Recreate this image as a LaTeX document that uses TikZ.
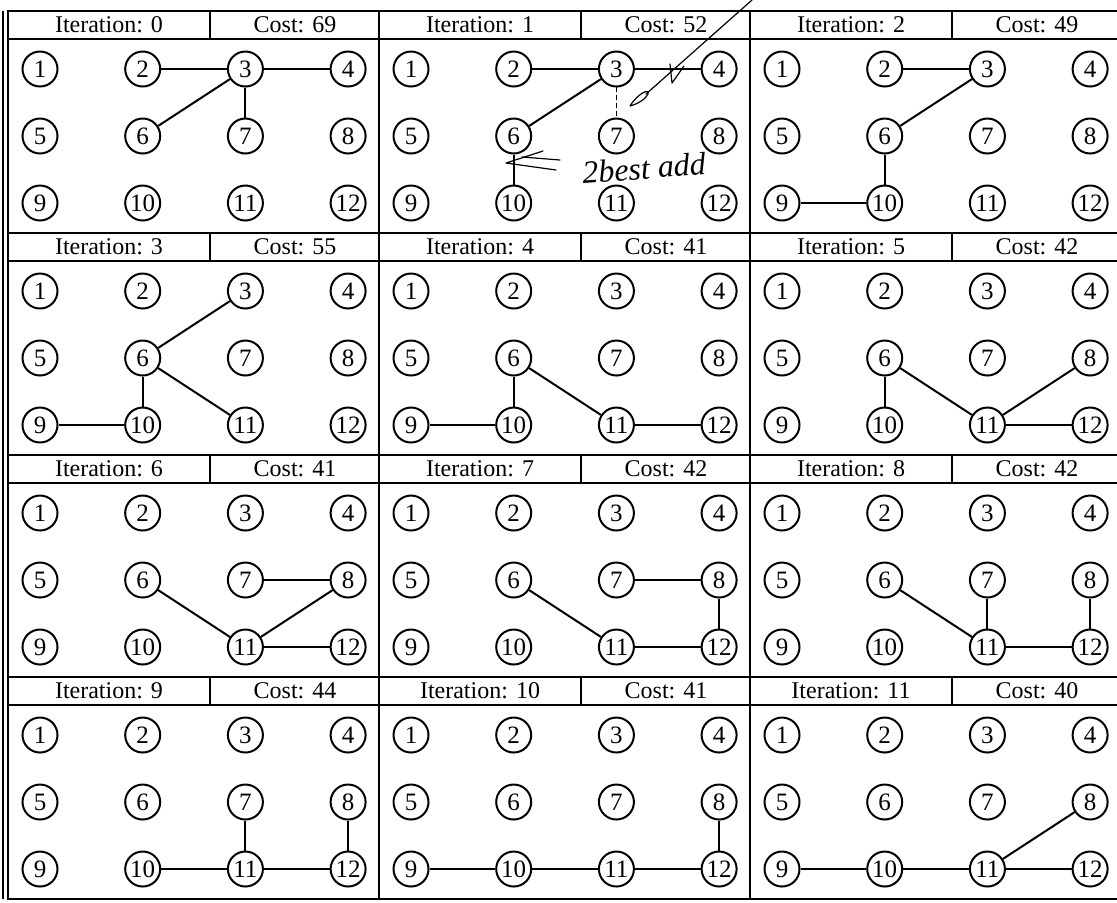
\documentclass[tikz,border=0pt]{standalone}
\usepackage{fontspec}
\setmainfont{Liberation Serif}

\tikzset{
  vertex/.style={circle, draw, line width=1pt, minimum size=17.5pt, inner sep=0pt,
    font=\fontsize{12.5}{13}\selectfont},
  link/.style={line width=1pt},
  frame/.style={line width=1pt},
  headtext/.style={inner sep=0pt, font=\fontsize{12}{12}\selectfont},
  pen/.style={line width=0.6pt, line cap=round, line join=round}
}

% one panel: name, left, top, iteration, cost
\newcommand{\iterpanel}[5]{%
  \draw[frame] (#2,#3) rectangle ++(371,222);
  \draw[frame] (#2,#3+28) -- ++(371,0);
  \draw[frame] (#2+202,#3) -- ++(0,28);
  \node[headtext] (#1head) at (#2+101,#3+14) {Iteration: #4};
  \node[headtext] (#1cost) at (#2+287,#3+14) {Cost: #5};
  \foreach \r in {0,1,2}
    \foreach \c in {1,...,4} {
      \pgfmathtruncatemacro\k{4*\r+\c}
      \node[vertex] (#1v\k) at (#2+32+102.7*\c-102.7,#3+58+67*\r) {\k};
    }
}
\newcommand{\links}[2]{\foreach \a/\b in {#2} \draw[link] (#1v\a) -- (#1v\b);}

\begin{document}
\begin{tikzpicture}[x=0.5pt, y=-0.5pt]
  \useasboundingbox (0,0) rectangle (1117,902);
  \clip (0,0) rectangle (1117,902);

  \iterpanel{p0}{8}{11}{0}{69}
  \iterpanel{p1}{379}{11}{1}{52}
  \iterpanel{p2}{750}{11}{2}{49}
  \iterpanel{p3}{8}{233}{3}{55}
  \iterpanel{p4}{379}{233}{4}{41}
  \iterpanel{p5}{750}{233}{5}{42}
  \iterpanel{p6}{8}{455}{6}{41}
  \iterpanel{p7}{379}{455}{7}{42}
  \iterpanel{p8}{750}{455}{8}{42}
  \iterpanel{p9}{8}{677}{9}{44}
  \iterpanel{p10}{379}{677}{10}{41}
  \iterpanel{p11}{750}{677}{11}{40}
  \draw[line width=0.8pt] (3,11) -- (3,899);

  % edges of each iteration
  \links{p0}{2/3,3/4,3/6,3/7}
  \links{p1}{2/3,3/4,3/6,6/10}
  \links{p2}{2/3,3/6,6/10,9/10}
  \links{p3}{3/6,6/10,6/11,9/10}
  \links{p4}{6/10,9/10,6/11,11/12}
  \links{p5}{6/10,6/11,8/11,11/12}
  \links{p6}{6/11,7/8,8/11,11/12}
  \links{p7}{6/11,7/8,8/12,11/12}
  \links{p8}{6/11,7/11,8/12,11/12}
  \links{p9}{10/11,7/11,8/12,11/12}
  \links{p10}{9/10,10/11,11/12,8/12}
  \links{p11}{9/10,10/11,8/11,11/12}

  % pen marks on iteration 1
  \draw[pen, dash pattern=on 2pt off 2pt] (p1v3) -- (p1v7);
  \coordinate (penstart) at (752,0);
  \coordinate (pentip) at (630,106);
  \draw[pen] (penstart) -- (646,94);
  \draw[pen] (pentip) .. controls (638,93) and (650,88) .. (648,94)
    .. controls (645,100) and (637,104) .. (pentip);
  \draw[pen] (670,64) -- (672,83) -- (684,66);
  \draw[pen] (543,151) -- (506,163) -- (556,170);
  \draw[pen] (522,157) -- (560,160);
  \node[font=\fontsize{16}{16}\selectfont\itshape, rotate=4, inner sep=0pt] (note) at (644,168) {2best add};
\end{tikzpicture}
\end{document}
